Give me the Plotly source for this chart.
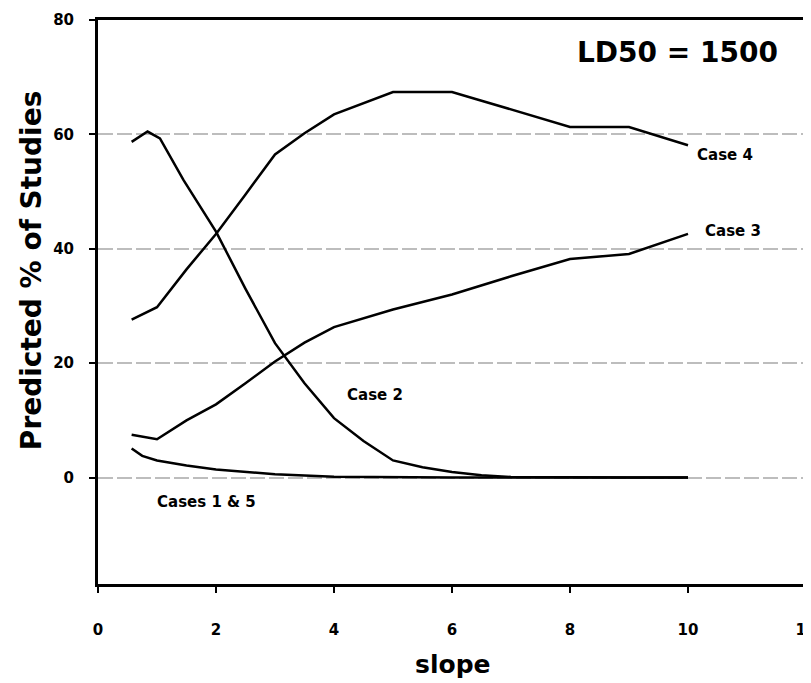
import plotly.graph_objects as go

# ---- data ----
case4_x = [0.57, 1.0, 1.5, 2.0, 2.5, 3.0, 3.5, 4.0, 5.0, 6.0, 6.4, 7.0, 8.0, 9.0, 10.0]
case4_y = [27.6, 29.8, 36.4, 42.6, 49.5, 56.5, 60.2, 63.5, 67.4, 67.4, 66.2, 64.4, 61.3, 61.3, 58.1]

case3_x = [0.57, 1.0, 1.5, 2.0, 2.5, 3.0, 3.5, 4.0, 5.0, 6.0, 7.0, 8.0, 9.0, 10.0]
case3_y = [7.5, 6.7, 10.0, 12.8, 16.5, 20.3, 23.6, 26.3, 29.4, 32.0, 35.2, 38.2, 39.1, 42.6]

case2_x = [0.57, 0.84, 1.05, 1.45, 2.0, 2.5, 3.0, 3.5, 4.0, 4.5, 5.0, 5.5, 6.0, 6.5, 7.0, 8.0, 9.0, 10.0]
case2_y = [58.7, 60.5, 59.3, 52.0, 43.0, 33.0, 23.5, 16.5, 10.4, 6.4, 3.0, 1.8, 1.0, 0.4, 0.1, 0.0, 0.0, 0.0]

case15_x = [0.57, 0.75, 1.0, 1.5, 2.0, 3.0, 4.0, 5.0, 6.0, 7.0, 8.0, 9.0, 10.0]
case15_y = [5.1, 3.8, 3.0, 2.1, 1.4, 0.6, 0.15, 0.05, 0.0, 0.0, 0.0, 0.0, 0.0]

x_ticks = [0, 2, 4, 6, 8, 10, 12]
y_ticks = [0, 20, 40, 60, 80]

case_labels = ["Case 4", "Case 3", "Case 2", "Cases 1 & 5"]
label_x = [10.12, 10.25, 4.19, 0.97]
label_y = [56.4, 43.1, 14.4, -4.3]

FONT = "DejaVu Sans"

fig = go.Figure()
for xs, ys in [(case4_x, case4_y), (case3_x, case3_y), (case2_x, case2_y), (case15_x, case15_y)]:
    fig.add_trace(go.Scatter(x=xs, y=ys, mode="lines",
                             line=dict(color="black", width=2.5),
                             showlegend=False, hoverinfo="skip"))

for t, lx, ly in zip(case_labels, label_x, label_y):
    fig.add_annotation(x=lx, y=ly, xref="x", yref="y", text=t, showarrow=False,
                       xanchor="left", yanchor="middle",
                       font=dict(family=FONT, size=15, color="black", weight="bold"))

fig.add_annotation(x=0.963, y=0.943, xref="paper", yref="paper", text="LD50 = 1500",
                   showarrow=False, xanchor="right", yanchor="middle",
                   font=dict(family=FONT, size=28, color="black", weight="bold"))

fig.add_annotation(x=-0.093, y=0.555, xref="paper", yref="paper",
                   text="Predicted % of Studies", textangle=-90, showarrow=False,
                   xanchor="center", yanchor="middle",
                   font=dict(family=FONT, size=28, color="black", weight="bold"))

fig.add_annotation(x=0.5, y=-0.142, xref="paper", yref="paper", text="slope",
                   showarrow=False, xanchor="center", yanchor="middle",
                   font=dict(family=FONT, size=25, color="black", weight="bold"))

fig.update_xaxes(range=[0, 12], tickvals=x_ticks, ticks="outside", ticklen=6,
                 tickwidth=2, tickcolor="black", showline=True, linecolor="black",
                 linewidth=3, mirror=True, showgrid=False, zeroline=False,
                 ticklabelstandoff=24, ticklabeloverflow="allow",
                 tickfont=dict(family=FONT, size=15, color="black", weight="bold"))
fig.update_yaxes(range=[-18.6, 80], tickvals=y_ticks, ticks="outside", ticklen=6,
                 tickwidth=2, tickcolor="black", showline=True, linecolor="black",
                 linewidth=3, mirror=True, showgrid=True, gridcolor="#bdbdbd",
                 gridwidth=2, griddash="15px,4px", zeroline=False,
                 ticklabelstandoff=12,
                 tickfont=dict(family=FONT, size=15, color="black", weight="bold"))

# page body has an 8px margin, so the figure is sized/offset to compensate
fig.update_layout(width=803, height=675, plot_bgcolor="white", paper_bgcolor="white",
                  margin=dict(l=90, r=5, t=12, b=99, autoexpand=False))

fig.write_html("out.html")
